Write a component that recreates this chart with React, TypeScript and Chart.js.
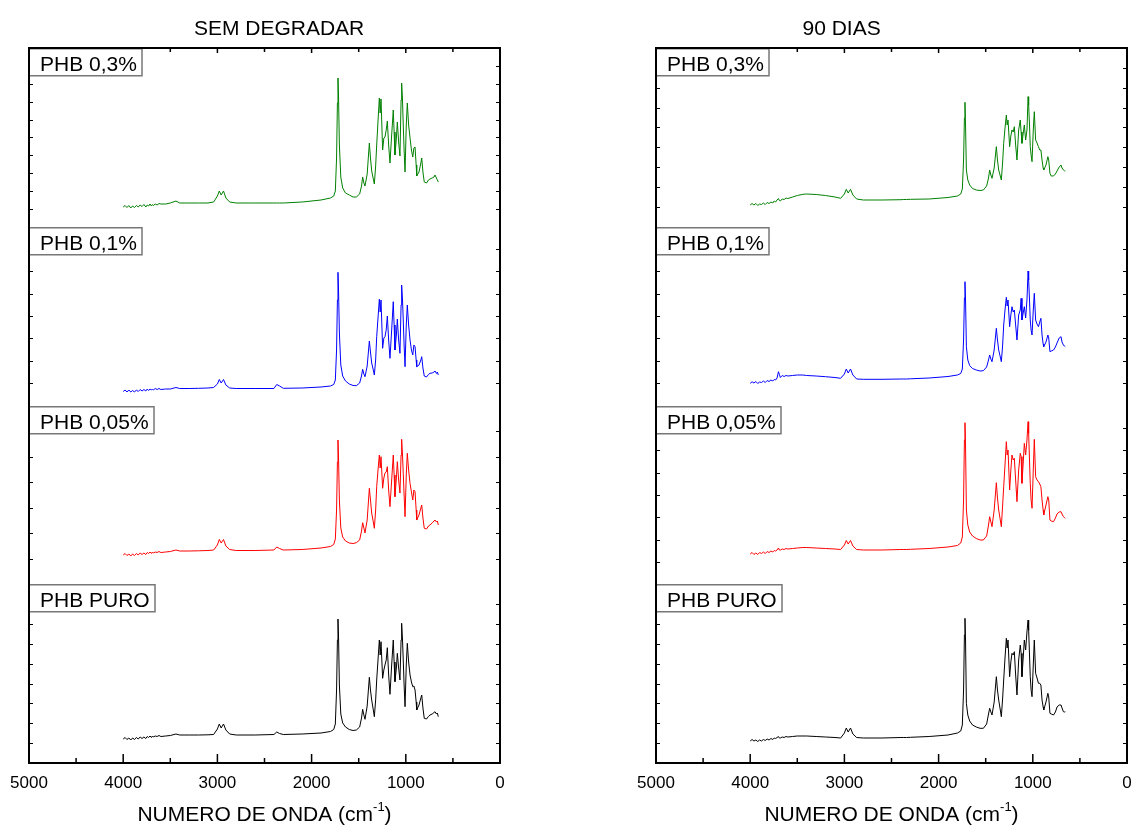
import React, { useEffect, useRef } from "react";
import { Chart, registerables } from "chart.js";

Chart.register(...registerables);

// ---------- DATA ----------
// wavenumber grid, cm^-1
const WAVENUMBERS = [
  4000, 3980, 3960, 3940, 3920, 3900, 3880, 3860, 3840, 3820, 3800, 3780, 3760, 3745, 3730, 3715, 3700, 3690, 3680, 3660, 3640, 3620, 3600,
  3550, 3500, 3440, 3400, 3300, 3200, 3100, 3040,
  3000, 2980, 2960, 2935, 2910, 2870, 2800, 2600, 2400, 2370, 2340, 2300, 2100, 1900,
  1800, 1765, 1748, 1735, 1726, 1720, 1714, 1705, 1690, 1670, 1640, 1600, 1560, 1525, 1490, 1470, 1458, 1445, 1433, 1410,
  1387, 1375, 1362, 1345, 1334, 1320, 1309, 1295, 1281, 1272, 1263, 1246, 1233, 1221, 1208, 1196, 1182, 1168, 1150, 1133,
  1124, 1115, 1100, 1090, 1076, 1062, 1050, 1044, 1035, 1027, 1018, 1008, 995, 984, 970, 955, 940, 926, 914, 902,
  890, 884, 860, 840, 831, 818, 804, 780, 760, 743, 720, 700, 690, 675, 665, 655,
];

// SEM DEGRADAR (stacked intensity, a.u.)
const SEM_PHB_03 = [
  55.6, 55.75, 55.55, 55.75, 55.5, 55.7, 55.55, 55.75, 55.6, 55.8, 55.65, 55.85, 55.6, 55.8, 55.7, 55.9, 55.7, 55.85, 55.75, 55.9, 55.8, 55.95, 55.9,
  55.9, 56.0, 56.2, 56.0, 56.0, 56.0, 56.0, 56.1,
  56.7, 57.2, 56.8, 57.2, 56.5, 56.1, 56.0, 56.0, 56.0, 56.0, 56.0, 56.0, 56.1, 56.3,
  56.5, 56.7, 57.2, 60.5, 66.0, 68.5, 66.6, 61.8, 58.6, 57.5, 57.0, 56.8, 56.6, 56.6, 56.9, 57.7, 58.6, 58.0, 57.7, 58.9,
  62.0, 60.5, 59.2, 58.4, 57.9, 59.7, 61.8, 64.2, 66.5, 65.0, 66.4, 61.3, 62.5, 62.6, 63.3, 64.2, 61.8, 60.0, 62.8, 65.3,
  63.1, 60.8, 62.5, 64.1, 62.1, 60.7, 66.3, 68.0, 66.3, 63.8, 61.3, 59.1, 63.8, 66.0, 63.8, 62.5, 61.3, 60.6, 61.5, 61.6,
  59.8, 58.7, 59.1, 60.0, 60.5, 59.1, 58.1, 58.0, 58.3, 58.4, 58.5, 58.6, 58.8, 58.5, 58.3, 58.1,
];
const SEM_PHB_01 = [
  37.15, 37.3, 37.1, 37.3, 37.1, 37.25, 37.1, 37.3, 37.15, 37.35, 37.2, 37.35, 37.2, 37.4, 37.25, 37.4, 37.3, 37.4, 37.3, 37.45, 37.35, 37.45, 37.35,
  37.4, 37.4, 37.55, 37.45, 37.45, 37.47, 37.5, 37.55,
  37.9, 38.35, 38.0, 38.35, 37.8, 37.5, 37.45, 37.45, 37.45, 37.85, 37.7, 37.47, 37.5, 37.6,
  37.7, 37.85, 38.3, 41.3, 46.3, 49.07, 47.3, 43.0, 39.8, 38.7, 38.2, 37.9, 37.75, 37.73, 38.0, 38.7, 39.37, 38.9, 38.63, 39.7,
  42.2, 41.1, 40.0, 39.3, 38.8, 40.3, 42.63, 44.5, 46.37, 45.1, 46.3, 41.47, 42.5, 42.63, 43.3, 44.7, 42.3, 40.47, 43.3, 46.13,
  43.8, 41.3, 42.8, 44.4, 42.3, 40.97, 45.8, 47.8, 46.3, 44.3, 41.8, 39.63, 43.8, 45.8, 43.8, 42.3, 41.3, 40.8, 41.8, 41.63,
  40.3, 39.63, 39.8, 40.3, 40.63, 39.5, 38.7, 38.6, 38.85, 38.97, 39.0, 39.1, 39.2, 38.95, 39.1, 38.8,
];
const SEM_PHB_005 = [
  20.8, 20.95, 20.75, 20.9, 20.7, 20.9, 20.75, 20.95, 20.8, 21.0, 20.85, 21.0, 20.85, 21.05, 20.95, 21.1, 20.95, 21.1, 21.0, 21.1, 21.05, 21.15, 21.05,
  21.1, 21.15, 21.3, 21.2, 21.2, 21.22, 21.25, 21.3,
  21.8, 22.35, 22.0, 22.35, 21.7, 21.35, 21.25, 21.25, 21.3, 21.6, 21.45, 21.3, 21.35, 21.5,
  21.65, 21.85, 22.4, 25.3, 30.1, 32.3, 30.5, 26.3, 23.5, 22.6, 22.2, 22.0, 21.95, 22.03, 22.3, 23.2, 24.03, 23.5, 23.0, 24.3,
  27.47, 26.3, 25.0, 24.1, 23.47, 25.3, 27.63, 29.3, 30.8, 29.5, 30.63, 27.47, 28.5, 29.0, 29.1, 29.63, 27.3, 25.63, 28.3, 30.8,
  28.8, 26.63, 28.5, 30.13, 28.3, 27.0, 30.8, 32.37, 30.8, 28.97, 26.8, 24.63, 28.8, 30.97, 29.3, 27.97, 27.1, 26.3, 27.3, 27.13,
  25.3, 24.3, 24.8, 25.5, 25.8, 24.5, 23.47, 23.4, 23.7, 23.8, 24.0, 24.2, 24.3, 24.1, 24.2, 23.8,
];
const SEM_PHB_PURO = [
  2.4, 2.55, 2.35, 2.5, 2.3, 2.5, 2.35, 2.55, 2.4, 2.6, 2.45, 2.6, 2.45, 2.65, 2.55, 2.7, 2.55, 2.7, 2.6, 2.7, 2.65, 2.75, 2.65,
  2.7, 2.75, 2.9, 2.8, 2.8, 2.8, 2.82, 2.85,
  3.4, 3.9, 3.5, 3.9, 3.3, 2.9, 2.8, 2.8, 2.85, 3.1, 2.95, 2.85, 2.9, 3.0,
  3.15, 3.35, 3.9, 7.3, 12.3, 14.4, 12.6, 7.8, 4.9, 4.0, 3.6, 3.35, 3.25, 3.3, 3.6, 4.5, 5.37, 4.8, 4.37, 5.7,
  8.57, 7.3, 6.3, 5.3, 4.63, 6.3, 8.3, 10.3, 12.3, 10.8, 12.13, 8.47, 9.3, 9.8, 10.3, 11.53, 8.8, 6.87, 9.8, 12.3,
  10.1, 8.13, 9.5, 10.97, 9.5, 8.3, 12.3, 13.97, 12.3, 10.3, 7.8, 5.63, 9.8, 11.97, 10.1, 8.8, 8.1, 7.63, 7.7, 7.3,
  6.1, 5.3, 5.8, 6.5, 6.8, 5.5, 4.47, 4.4, 4.65, 4.8, 4.9, 5.05, 5.13, 4.9, 5.0, 4.63,
];

// 90 DIAS (stacked intensity, a.u.)
const D90_PHB_03 = [
  55.8, 55.95, 55.8, 55.95, 55.75, 55.9, 55.85, 56.0, 55.85, 56.05, 55.95, 56.1, 56.0, 56.2, 56.1, 56.3, 56.45, 56.25, 56.2, 56.4, 56.35, 56.5, 56.45,
  56.6, 56.75, 56.87, 56.9, 56.85, 56.75, 56.6, 56.47,
  56.9, 57.37, 57.0, 57.37, 56.8, 56.4, 56.3, 56.3, 56.33, 56.35, 56.35, 56.37, 56.4, 56.55,
  56.7, 56.9, 57.4, 60.3, 64.5, 66.07, 63.8, 59.3, 58.3, 57.8, 57.45, 57.3, 57.25, 57.3, 57.7, 58.5, 59.3, 58.8, 58.47, 59.5,
  61.63, 60.3, 59.3, 58.7, 58.3, 60.1, 61.97, 63.5, 64.8, 63.8, 64.3, 61.63, 62.7, 63.3, 63.1, 63.63, 61.8, 60.3, 63.3, 64.3,
  63.1, 61.97, 63.1, 63.8, 62.3, 63.3, 66.63, 65.8, 63.8, 61.63, 60.8, 60.13, 63.3, 65.13, 62.3, 62.0, 61.63, 61.3, 61.3, 60.3,
  59.5, 59.3, 59.8, 60.63, 60.3, 58.97, 58.7, 58.7, 58.9, 59.2, 59.6, 59.8, 59.5, 59.3, 59.23, 59.2,
];
const D90_PHB_01 = [
  37.97, 38.12, 38.0, 38.15, 37.95, 38.1, 38.05, 38.2, 38.05, 38.25, 38.15, 38.3, 38.2, 38.35, 38.3, 38.5, 39.13, 38.85, 38.55, 38.75, 38.65, 38.75, 38.7,
  38.75, 38.8, 38.8, 38.75, 38.7, 38.63, 38.55, 38.47,
  38.9, 39.4, 39.0, 39.4, 38.8, 38.4, 38.37, 38.37, 38.4, 38.4, 38.4, 38.42, 38.5, 38.65,
  38.8, 38.95, 39.4, 42.3, 46.5, 48.13, 46.3, 41.63, 40.3, 39.75, 39.45, 39.3, 39.2, 39.23, 39.6, 40.3, 40.8, 40.4, 40.13, 41.3,
  43.47, 42.3, 41.3, 40.6, 40.13, 41.8, 43.8, 45.3, 46.57, 45.7, 46.3, 43.63, 44.8, 45.63, 45.1, 45.3, 43.8, 42.3, 44.8, 45.3,
  46.47, 44.3, 45.1, 45.63, 44.5, 46.3, 49.2, 48.3, 46.3, 44.3, 43.3, 42.8, 45.3, 46.97, 44.3, 43.9, 43.63, 44.1, 44.47, 42.8,
  41.9, 41.63, 42.1, 42.8, 42.5, 41.13, 41.2, 41.3, 41.6, 42.0, 42.5, 42.63, 42.1, 41.8, 41.7, 41.63,
];
const D90_PHB_005 = [
  20.9, 21.05, 20.85, 21.0, 20.85, 21.05, 20.95, 21.1, 20.95, 21.15, 21.05, 21.2, 21.1, 21.25, 21.2, 21.3, 21.5, 21.3, 21.3, 21.4, 21.35, 21.45, 21.4,
  21.45, 21.5, 21.55, 21.55, 21.5, 21.45, 21.4, 21.35,
  21.8, 22.25, 21.9, 22.25, 21.7, 21.35, 21.3, 21.3, 21.35, 21.35, 21.35, 21.37, 21.45, 21.6,
  21.75, 22.0, 22.6, 26.3, 32.3, 34.03, 31.8, 25.3, 23.8, 23.1, 22.7, 22.45, 22.3, 22.3, 22.7, 23.8, 24.63, 24.1, 23.63, 25.3,
  28.03, 26.5, 25.3, 24.3, 23.63, 25.8, 27.63, 29.8, 32.13, 30.8, 31.3, 27.3, 29.3, 30.8, 30.3, 30.47, 28.3, 26.13, 29.3, 30.97,
  30.63, 27.97, 30.3, 31.97, 30.8, 32.3, 34.13, 32.97, 30.3, 27.97, 26.3, 25.47, 29.3, 32.37, 28.63, 28.3, 28.13, 27.9, 27.63, 26.3,
  25.3, 24.8, 25.8, 26.63, 26.3, 24.3, 24.2, 24.13, 24.5, 24.9, 25.1, 25.13, 24.9, 24.63, 24.55, 24.47,
];
const D90_PHB_PURO = [
  2.2, 2.35, 2.2, 2.3, 2.15, 2.3, 2.2, 2.35, 2.25, 2.4, 2.3, 2.45, 2.35, 2.5, 2.45, 2.55, 2.65, 2.5, 2.5, 2.6, 2.55, 2.65, 2.6,
  2.65, 2.7, 2.7, 2.7, 2.65, 2.6, 2.55, 2.5,
  3.0, 3.5, 3.1, 3.5, 2.9, 2.55, 2.5, 2.5, 2.55, 2.55, 2.55, 2.57, 2.65, 2.8,
  3.0, 3.2, 3.8, 7.3, 12.8, 14.47, 12.3, 5.97, 4.8, 4.2, 3.8, 3.6, 3.47, 3.47, 3.9, 4.9, 5.47, 5.1, 4.8, 6.1,
  8.63, 7.3, 6.3, 5.3, 4.63, 6.5, 8.3, 10.5, 12.47, 11.5, 12.3, 8.63, 10.1, 10.97, 10.8, 11.13, 8.8, 6.8, 10.3, 11.8,
  10.97, 8.63, 10.8, 12.3, 11.3, 13.1, 14.3, 13.3, 10.8, 8.63, 7.3, 6.63, 9.8, 12.3, 8.97, 8.5, 7.97, 7.97, 7.8, 6.3,
  5.6, 5.3, 6.1, 6.97, 6.6, 4.97, 4.9, 4.8, 5.1, 5.6, 5.8, 5.8, 5.5, 5.13, 5.1, 5.13,
];

const SAMPLE_LABELS = ["PHB 0,3%", "PHB 0,1%", "PHB 0,05%", "PHB PURO"];
const SERIES_COLORS = ["#008000", "#0000ff", "#ff0000", "#000000"];
const PANEL_TITLES = ["SEM DEGRADAR", "90 DIAS"];
const X_TITLE = "NUMERO DE ONDA (cm";
const X_TITLE_SUP = "-1";
const X_TICK_LABELS = [5000, 4000, 3000, 2000, 1000, 0];
const X_MIN = 0;
const X_MAX = 5000;
const X_MINOR_STEP = 500;
const Y_MAX = 71.5;
// each spectrum sits in its own layer (top to bottom), each layer with its own y-tick count
const LAYER_BOUNDS = [71.5, 53.625, 35.75, 17.875, 0];
const LEFT_LAYER_TICKS = [10, 8, 7, 9];
const RIGHT_LAYER_TICKS = [9, 8, 8, 9];

const FONT = '"Liberation Sans", Arial, Helvetica, sans-serif';

const framePlugin = {
  id: "ftirFrame",
  afterDatasetsDraw(chart: any, _args: any, opts: any) {
    const { ctx, chartArea: a } = chart;
    const xs = chart.scales.x;
    const ys = chart.scales.y;
    ctx.save();

    // y ticks per layer (left and right, inward)
    ctx.strokeStyle = "#000";
    ctx.lineWidth = 1;
    const layerTicks: number[] = opts.layerTicks;
    for (let k = 0; k < 4; k++) {
      const hi = LAYER_BOUNDS[k];
      const lo = LAYER_BOUNDS[k + 1];
      const n = layerTicks[k];
      for (let j = 1; j < n; j++) {
        const py = Math.round(ys.getPixelForValue(lo + ((hi - lo) * j) / n)) + 0.5;
        ctx.beginPath();
        ctx.moveTo(a.left, py);
        ctx.lineTo(a.left + 4, py);
        ctx.moveTo(a.right, py);
        ctx.lineTo(a.right - 4, py);
        ctx.stroke();
      }
    }

    // x ticks (bottom and top, inward)
    ctx.lineWidth = 1.5;
    for (let v = X_MIN; v <= X_MAX; v += X_MINOR_STEP) {
      const px = xs.getPixelForValue(v);
      const major = v % 1000 === 0;
      ctx.beginPath();
      ctx.moveTo(px, a.bottom);
      ctx.lineTo(px, a.bottom - (major ? 9 : 5));
      ctx.moveTo(px, a.top);
      ctx.lineTo(px, a.top + (major ? 5 : 4));
      ctx.stroke();
    }

    // label boxes
    ctx.font = `21px ${FONT}`;
    ctx.textAlign = "left";
    ctx.textBaseline = "alphabetic";
    SAMPLE_LABELS.forEach((lab, k) => {
      const top = Math.round(ys.getPixelForValue(LAYER_BOUNDS[k]));
      const w = Math.round(ctx.measureText(lab).width + 16);
      ctx.fillStyle = "#fff";
      ctx.fillRect(a.left, top, w, 28);
      ctx.strokeStyle = "#777";
      ctx.lineWidth = 1.5;
      ctx.strokeRect(a.left, top + 0.75, w, 27);
      ctx.fillStyle = "#000";
      ctx.fillText(lab, a.left + 11, top + 23);
    });

    // frame
    ctx.strokeStyle = "#000";
    ctx.lineWidth = 2;
    ctx.strokeRect(a.left, a.top, a.right - a.left, a.bottom - a.top);

    // x tick labels
    ctx.fillStyle = "#000";
    ctx.font = `17px ${FONT}`;
    ctx.textAlign = "center";
    X_TICK_LABELS.forEach((v) => {
      ctx.fillText(String(v), xs.getPixelForValue(v), a.bottom + 25);
    });

    // panel title
    ctx.font = `21px ${FONT}`;
    ctx.fillText(opts.title, a.left + (a.right - a.left) * opts.titlePos, a.top - 13);

    // x axis title with superscript
    ctx.font = `21px ${FONT}`;
    const w1 = ctx.measureText(X_TITLE).width;
    const w3 = ctx.measureText(")").width;
    ctx.font = `13px ${FONT}`;
    const w2 = ctx.measureText(X_TITLE_SUP).width;
    let sx = (a.left + a.right) / 2 - (w1 + w2 + w3) / 2;
    const by = a.bottom + 58;
    ctx.textAlign = "left";
    ctx.font = `21px ${FONT}`;
    ctx.fillText(X_TITLE, sx, by);
    sx += w1;
    ctx.font = `13px ${FONT}`;
    ctx.fillText(X_TITLE_SUP, sx, by - 10);
    sx += w2;
    ctx.font = `21px ${FONT}`;
    ctx.fillText(")", sx, by);

    ctx.restore();
  },
};

type PanelProps = {
  series: number[][];
  title: string;
  titlePos: number;
  layerTicks: number[];
  left: number;
  width: number;
  padding: { left: number; right: number; top: number; bottom: number };
};

function Panel({ series, title, titlePos, layerTicks, left, width, padding }: PanelProps) {
  const ref = useRef<HTMLCanvasElement | null>(null);
  useEffect(() => {
    if (!ref.current) return;
    const chart = new Chart(ref.current, {
      type: "line",
      data: {
        datasets: series.map((vals, i) => ({
          label: SAMPLE_LABELS[i],
          data: WAVENUMBERS.map((w, j) => ({ x: w, y: vals[j] })),
          borderColor: SERIES_COLORS[i],
          backgroundColor: SERIES_COLORS[i],
          borderWidth: 1,
          borderJoinStyle: "round",
          pointRadius: 0,
          tension: 0,
          fill: false,
        })),
      },
      options: {
        animation: false,
        responsive: false,
        maintainAspectRatio: false,
        events: [],
        layout: { padding },
        plugins: {
          legend: { display: false },
          tooltip: { enabled: false },
          title: { display: false },
          ftirFrame: { title, titlePos, layerTicks },
        } as any,
        scales: {
          x: { type: "linear", reverse: true, min: X_MIN, max: X_MAX, display: false },
          y: { type: "linear", min: 0, max: Y_MAX, display: false },
        },
      },
      plugins: [framePlugin],
    } as any);
    return () => chart.destroy();
  }, []);
  return (
    <canvas
      ref={ref}
      width={width}
      height={828}
      style={{ position: "absolute", left, top: 0, width, height: 828 }}
    />
  );
}

export default function App() {
  return (
    <div style={{ position: "fixed", left: 0, top: 0, width: 1131, height: 828, background: "#fff", overflow: "hidden" }}>
      <Panel
        series={[SEM_PHB_03, SEM_PHB_01, SEM_PHB_005, SEM_PHB_PURO]}
        title={PANEL_TITLES[0]}
        titlePos={0.531}
        layerTicks={LEFT_LAYER_TICKS}
        left={0}
        width={565}
        padding={{ left: 29, right: 65, top: 48, bottom: 65 }}
      />
      <Panel
        series={[D90_PHB_03, D90_PHB_01, D90_PHB_005, D90_PHB_PURO]}
        title={PANEL_TITLES[1]}
        titlePos={0.394}
        layerTicks={RIGHT_LAYER_TICKS}
        left={565}
        width={566}
        padding={{ left: 91, right: 4, top: 48, bottom: 65 }}
      />
    </div>
  );
}
